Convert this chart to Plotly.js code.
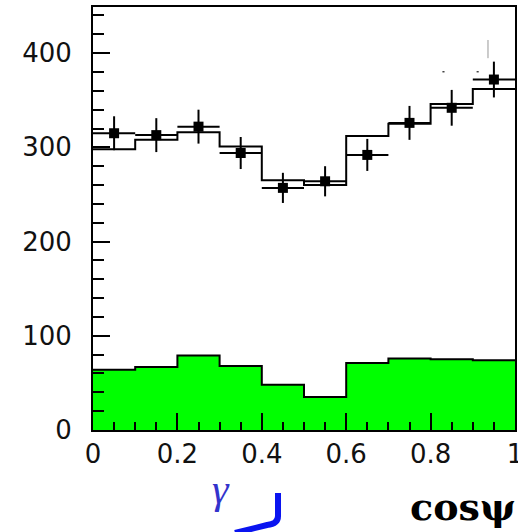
<!DOCTYPE html>
<html>
<head>
<meta charset="utf-8">
<script src="https://cdn.plot.ly/plotly-3.0.1.min.js"></script>
<style>
  html, body { margin: 0; padding: 0; background: #fff; }
  #chart { width: 518px; height: 532px; }
</style>
</head>
<body>
<div id="chart"></div>
<script>
// Bin edges of the cos(psi) distribution (10 bins from 0 to 1)
const binEdges = [0, 0.1, 0.2, 0.3, 0.4, 0.5, 0.6, 0.7, 0.8, 0.9, 1.0];
// Measured events per bin and their statistical errors
const dataCounts = [315, 313, 322, 294, 257, 264, 292, 326, 342, 372];
const dataErrors = [18, 18, 18, 17, 16, 16, 17, 18, 19, 19];
// Expected total (signal + background) per bin
const expected = [298, 308, 316, 301, 265, 260, 312, 325, 346, 362];
// Background contribution per bin
const background = [64, 67, 79, 68, 48, 35, 71, 76, 75, 74];

const xTickVals = [0, 0.2, 0.4, 0.6, 0.8, 1];
const xTickText = ['0', '0.2', '0.4', '0.6', '0.8', '1'];
const yTickVals = [0, 100, 200, 300, 400];
const yTickText = ['0', '100', '200', '300', '400'];

// Step outline helper: repeat the last bin value so the 'hv' line reaches the last edge
function stepY(vals) { return vals.concat([vals[vals.length - 1]]); }
const centers = binEdges.slice(0, -1).map((e, i) => (e + binEdges[i + 1]) / 2);
const halfWidths = binEdges.slice(0, -1).map((e, i) => (binEdges[i + 1] - e) / 2);

const traces = [
  {
    type: 'scatter', mode: 'lines',
    x: binEdges, y: stepY(background),
    line: { shape: 'hv', color: '#000', width: 2 },
    fill: 'tozeroy', fillcolor: '#00ff00',
    hoverinfo: 'skip', showlegend: false
  },
  {
    type: 'scatter', mode: 'lines',
    x: binEdges, y: stepY(expected),
    line: { shape: 'hv', color: '#000', width: 2 },
    hoverinfo: 'skip', showlegend: false
  },
  {
    // data points sit on the labelled companion axis (same scale as y)
    type: 'scatter', mode: 'markers', yaxis: 'y2',
    x: centers, y: dataCounts,
    marker: { symbol: 'square', size: 10, color: '#000' },
    error_y: { type: 'data', array: dataErrors, visible: true, color: '#000', thickness: 2, width: 0 },
    error_x: { type: 'data', array: halfWidths, visible: true, color: '#000', thickness: 2, width: 0 },
    showlegend: false
  }
];

const tickFont = { family: 'DejaVu Sans, sans-serif', size: 26, color: '#111' };
const yRange = [0, 449];

const layout = {
  width: 518, height: 532,
  margin: { l: 93, r: 3, t: 7, b: 102 },
  paper_bgcolor: '#fff', plot_bgcolor: '#fff',
  showlegend: false,
  xaxis: {
    range: [0, 1], showgrid: false, zeroline: false,
    showline: true, linecolor: '#000', linewidth: 2, mirror: true,
    ticks: 'inside', ticklen: 17, tickwidth: 2, tickcolor: '#000',
    tickvals: xTickVals, ticktext: xTickText, tickfont: tickFont,
    ticklabeloverflow: 'allow',
    minor: { dtick: 0.05, ticks: 'inside', ticklen: 8, tickwidth: 2, tickcolor: '#000', showgrid: false }
  },
  // frame and inward ticks of the count axis
  yaxis: {
    range: yRange, showgrid: false, zeroline: false,
    showline: true, linecolor: '#000', linewidth: 2, mirror: true,
    ticks: 'inside', ticklen: 17, tickwidth: 2, tickcolor: '#000',
    tickvals: yTickVals, showticklabels: false,
    minor: { dtick: 20, ticks: 'inside', ticklen: 11, tickwidth: 2, tickcolor: '#000', showgrid: false }
  },
  // companion axis carrying the count labels a little further out
  yaxis2: {
    overlaying: 'y', matches: 'y', side: 'left', anchor: 'x',
    range: yRange, showgrid: false, zeroline: false, showline: false,
    ticks: 'outside', ticklen: 10, tickcolor: 'rgba(0,0,0,0)',
    ticklabelstandoff: 5,
    tickvals: yTickVals, ticktext: yTickText, tickfont: tickFont
  },
  annotations: [
    {
      xref: 'paper', yref: 'paper', x: 1.007, y: -0.18, xanchor: 'right', yanchor: 'middle',
      text: '<b>cos\u03C8</b>', showarrow: false,
      font: { family: 'DejaVu Serif, serif', size: 38, color: '#000' }
    },
    {
      xref: 'paper', yref: 'paper', x: 0.303, y: -0.14, xanchor: 'center', yanchor: 'middle',
      text: '<i>\u03B3</i>', showarrow: false,
      font: { family: 'Liberation Serif, serif', size: 42, color: '#3333cc' }
    }
  ],
  shapes: [
    // blue hand-drawn hook below the axis
    {
      type: 'path', xref: 'paper', yref: 'paper',
      path: 'M 0.4384 -0.1489 L 0.4384 -0.2033 Q 0.4384 -0.2222 0.4123 -0.2246 L 0.3365 -0.2435',
      line: { color: '#0a14f0', width: 6 }
    },
    // faint marks near the top right of the frame
    {
      type: 'line', xref: 'paper', yref: 'paper',
      x0: 0.936, x1: 0.936, y0: 0.922, y1: 0.879,
      line: { color: '#999', width: 1 }
    },
    {
      type: 'line', xref: 'paper', yref: 'paper',
      x0: 0.828, x1: 0.833, y0: 0.847, y1: 0.847,
      line: { color: '#444', width: 1.5 }
    },
    {
      type: 'line', xref: 'paper', yref: 'paper',
      x0: 0.909, x1: 0.914, y0: 0.847, y1: 0.847,
      line: { color: '#444', width: 1.5 }
    }
  ]
};

Plotly.newPlot('chart', traces, layout, { staticPlot: true, displayModeBar: false });
</script>
</body>
</html>
